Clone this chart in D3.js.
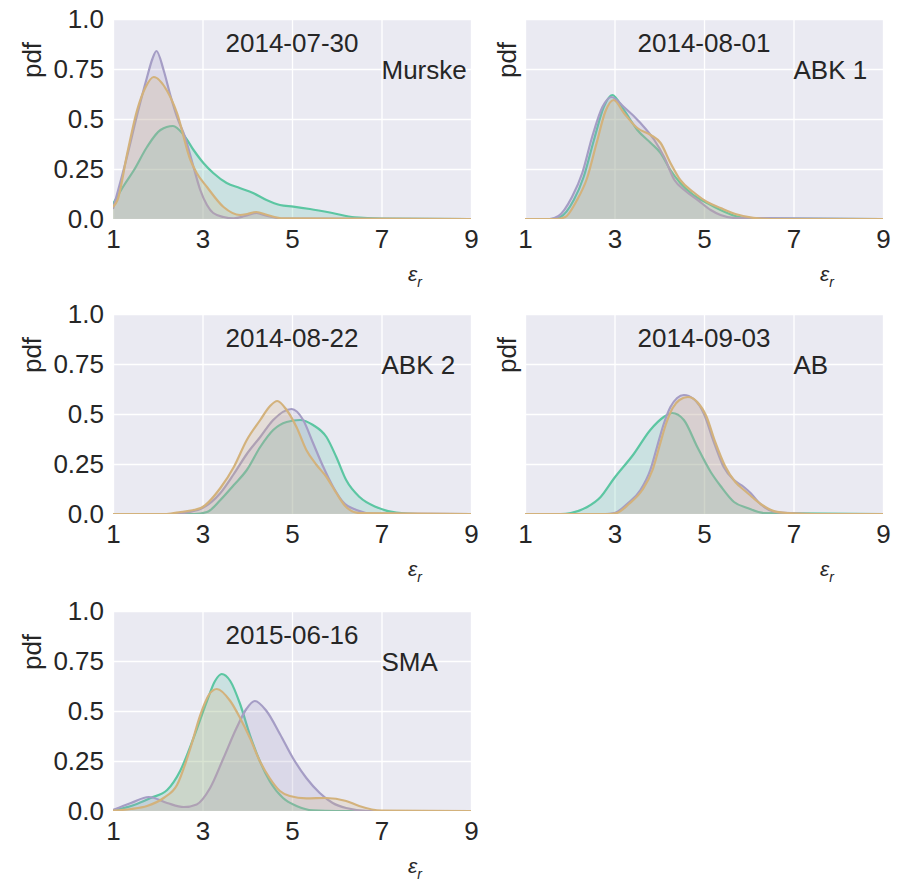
<!DOCTYPE html>
<meta charset="utf-8">
<style>
body { margin: 0; background: #fff; }
text { font-family: "Liberation Sans", Arial, sans-serif; fill: #262626; }
.grid line { stroke: #fff; stroke-width: 1.3; }
.grid .domain { display: none; }
.ticks .domain, .ticks line { display: none; }
.ticks text { font-size: 26px; fill: #262626; }
</style>
<body>
<svg width="901" height="881"></svg>
<script src="https://d3js.org/d3.v7.min.js"></script>
<script>

// panel labels
var dates = ["2014-07-30", "2014-08-01", "2014-08-22", "2014-09-03", "2015-06-16"];
var sites = ["Murske", "ABK 1", "ABK 2", "AB", "SMA"];
var xTicks = [1, 3, 5, 7, 9];
var yTicks = [0, 0.25, 0.5, 0.75, 1.0];
var yTickLabels = ["0.0", "0.25", "0.5", "0.75", "1.0"];

// series colours: green, purple, tan
var colors = ["#5cc6a2", "#a59dc5", "#d3b27c"];

// pdf curves, [eps_r, pdf]
var murskeGreen = [[1,0.075],[1.25,0.17],[1.47,0.245],[1.76,0.36],[2.06,0.445],[2.34,0.465],[2.58,0.42],[2.8,0.345],[3.02,0.28],[3.24,0.23],[3.54,0.18],[3.83,0.155],[4.13,0.13],[4.43,0.095],[4.73,0.07],[5.03,0.062],[5.4,0.05],[5.9,0.03],[6.4,0.008],[7,0.002],[9,0]];
var murskePurple = [[1,0.05],[1.3,0.3],[1.55,0.53],[1.75,0.7],[1.88,0.8],[1.97,0.84],[2.13,0.745],[2.28,0.62],[2.43,0.51],[2.61,0.41],[2.8,0.26],[2.95,0.145],[3.1,0.07],[3.24,0.03],[3.47,0.01],[3.7,0.003],[3.95,0.015],[4.2,0.03],[4.45,0.015],[4.8,0.002],[9,0]];
var murskeTan = [[1,0.06],[1.1,0.095],[1.32,0.33],[1.54,0.545],[1.73,0.66],[1.91,0.71],[2.21,0.64],[2.43,0.53],[2.73,0.295],[2.87,0.23],[3.1,0.16],[3.47,0.06],[3.84,0.02],[4.0,0.025],[4.2,0.035],[4.45,0.02],[4.8,0.003],[9,0]];

var abk1Green = [[1,0],[1.6,0],[1.79,0.01],[2.09,0.095],[2.31,0.21],[2.54,0.395],[2.76,0.56],[2.95,0.62],[3.21,0.545],[3.51,0.445],[3.81,0.38],[4.03,0.33],[4.25,0.245],[4.47,0.18],[4.76,0.12],[5.07,0.08],[5.37,0.045],[5.7,0.015],[6.1,0.002],[9,0]];
var abk1Purple = [[1,0],[1.55,0],[1.75,0.015],[2.05,0.11],[2.28,0.23],[2.5,0.41],[2.73,0.56],[2.93,0.61],[3.21,0.56],[3.58,0.48],[3.89,0.395],[4.11,0.31],[4.34,0.195],[4.56,0.145],[4.86,0.095],[5.15,0.045],[5.37,0.02],[5.7,0.005],[9,0]];
var abk1Tan = [[1,0],[1.7,0],[1.9,0.01],[2.15,0.09],[2.38,0.2],[2.6,0.38],[2.8,0.54],[2.98,0.595],[3.21,0.53],[3.51,0.455],[3.81,0.42],[4.03,0.38],[4.25,0.28],[4.47,0.195],[4.76,0.135],[5.07,0.085],[5.37,0.055],[5.7,0.025],[6.1,0.006],[6.5,0],[9,0]];

var abk2Green = [[1,0],[2.8,0],[3.1,0.01],[3.4,0.07],[3.7,0.145],[3.99,0.22],[4.29,0.335],[4.58,0.42],[4.88,0.46],[5.18,0.47],[5.47,0.445],[5.77,0.385],[5.99,0.285],[6.21,0.17],[6.51,0.085],[6.88,0.035],[7.33,0.007],[7.8,0],[9,0]];
var abk2Purple = [[1,0],[2.3,0],[2.7,0.01],[3.0,0.03],[3.4,0.105],[3.7,0.2],[3.99,0.3],[4.29,0.385],[4.58,0.47],[4.99,0.525],[5.25,0.47],[5.47,0.355],[5.69,0.24],[5.92,0.135],[6.14,0.06],[6.44,0.02],[6.8,0.002],[9,0]];
var abk2Tan = [[1,0],[2.2,0],[2.51,0.01],[2.96,0.03],[3.4,0.13],[3.7,0.235],[3.99,0.37],[4.29,0.47],[4.51,0.54],[4.67,0.565],[4.88,0.52],[5.1,0.435],[5.32,0.32],[5.55,0.245],[5.77,0.185],[5.99,0.105],[6.21,0.035],[6.5,0.005],[9,0]];

var abGreen = [[1,0],[1.8,0],[2.02,0.005],[2.39,0.035],[2.69,0.085],[2.98,0.175],[3.43,0.3],[3.8,0.42],[4.1,0.485],[4.29,0.505],[4.55,0.47],[4.85,0.335],[5.15,0.21],[5.37,0.14],[5.67,0.06],[5.97,0.03],[6.34,0.005],[9,0]];
var abPurple = [[1,0],[2.8,0],[3.0,0.005],[3.28,0.05],[3.58,0.12],[3.8,0.22],[3.95,0.335],[4.1,0.45],[4.25,0.535],[4.4,0.58],[4.55,0.595],[4.77,0.575],[5.0,0.5],[5.22,0.36],[5.44,0.235],[5.67,0.17],[5.89,0.135],[6.04,0.105],[6.26,0.05],[6.56,0.012],[7.0,0.003],[7.4,0],[9,0]];
var abTan = [[1,0],[2.85,0],[3.05,0.005],[3.32,0.05],[3.62,0.12],[3.85,0.22],[4.0,0.335],[4.15,0.45],[4.3,0.53],[4.45,0.57],[4.64,0.585],[4.85,0.56],[5.05,0.49],[5.25,0.36],[5.47,0.24],[5.7,0.16],[5.92,0.115],[6.1,0.08],[6.3,0.045],[6.6,0.012],[7.0,0.003],[7.5,0],[9,0]];

var smaGreen = [[1,0.003],[1.47,0.03],[1.84,0.065],[2.21,0.105],[2.5,0.2],[2.8,0.365],[3.1,0.55],[3.28,0.65],[3.43,0.685],[3.62,0.65],[3.84,0.535],[4.06,0.38],[4.28,0.25],[4.5,0.15],[4.8,0.065],[5.1,0.025],[5.47,0.003],[6,0],[9,0]];
var smaPurple = [[1,0.005],[1.4,0.04],[1.8,0.07],[2.21,0.04],[2.58,0.02],[2.87,0.033],[3.17,0.115],[3.47,0.265],[3.76,0.415],[3.98,0.51],[4.17,0.55],[4.43,0.5],[4.73,0.385],[5.02,0.265],[5.32,0.165],[5.62,0.09],[5.91,0.04],[6.21,0.015],[6.73,0],[9,0]];
var smaTan = [[1,0.002],[1.4,0.01],[1.76,0.025],[2.13,0.065],[2.43,0.13],[2.73,0.315],[2.95,0.48],[3.14,0.58],[3.32,0.61],[3.62,0.55],[3.84,0.465],[4.06,0.365],[4.28,0.25],[4.5,0.165],[4.73,0.1],[4.95,0.075],[5.32,0.063],[5.76,0.065],[6.21,0.05],[6.5,0.025],[7.0,0.002],[9,0]];

var curves = [
  [murskeGreen, murskePurple, murskeTan],
  [abk1Green, abk1Purple, abk1Tan],
  [abk2Green, abk2Purple, abk2Tan],
  [abGreen, abPurple, abTan],
  [smaGreen, smaPurple, smaTan]
];

var svg = d3.select("svg");

// grid of panels
var colLeft = [113, 525],
    rowTop = [19, 314, 611],
    plotW = 358,
    plotH = 200;

var x = d3.scaleLinear().domain([1, 9]).range([0, plotW]);
var y = d3.scaleLinear().domain([0, 1]).range([plotH, 0]);

var area = d3.area()
    .x(function(d) { return x(d[0]); })
    .y0(plotH)
    .y1(function(d) { return y(d[1]); })
    .curve(d3.curveMonotoneX);

var line = d3.line()
    .x(function(d) { return x(d[0]); })
    .y(function(d) { return y(d[1]); })
    .curve(d3.curveMonotoneX);

svg.append("defs").append("clipPath")
    .attr("id", "clip")
  .append("rect")
    .attr("width", plotW)
    .attr("height", plotH);

dates.forEach(function(date, i) {
  var col = i % 2,
      row = Math.floor(i / 2);

  var g = svg.append("g")
      .attr("transform", "translate(" + colLeft[col] + "," + rowTop[row] + ")");

  g.append("rect")
      .attr("width", plotW)
      .attr("height", plotH)
      .attr("fill", "#eaeaf2");

  // white grid
  g.append("g")
      .attr("class", "grid")
      .attr("transform", "translate(0," + plotH + ")")
      .call(d3.axisBottom(x).tickValues(xTicks).tickSize(-plotH).tickFormat(""));
  g.append("g")
      .attr("class", "grid")
      .call(d3.axisLeft(y).tickValues(yTicks).tickSize(-plotW).tickFormat(""));

  var plot = g.append("g").attr("clip-path", "url(#clip)");

  curves[i].forEach(function(c, k) {
    plot.append("path")
        .datum(c)
        .attr("d", area)
        .attr("fill", colors[k])
        .attr("fill-opacity", 0.22);
    plot.append("path")
        .datum(c)
        .attr("d", line)
        .attr("fill", "none")
        .attr("stroke", colors[k])
        .attr("stroke-width", 2.2)
        .attr("stroke-linejoin", "round");
  });

  // tick labels
  g.append("g")
      .attr("class", "ticks")
      .attr("transform", "translate(0," + plotH + ")")
      .call(d3.axisBottom(x).tickValues(xTicks).tickSize(0).tickPadding(11).tickFormat(d3.format("d")));

  if (col == 0) {
    g.append("g")
        .attr("class", "ticks")
        .call(d3.axisLeft(y).tickValues(yTicks).tickSize(0).tickPadding(9)
          .tickFormat(function(d, j) { return yTickLabels[j]; }));
  }

  g.append("text")
      .attr("x", x(5))
      .attr("y", y(0.835))
      .attr("text-anchor", "middle")
      .attr("font-size", 26)
      .text(date);

  g.append("text")
      .attr("x", x(7))
      .attr("y", y(0.70))
      .attr("font-size", 26)
      .text(sites[i]);

  g.append("text")
      .attr("transform", "translate(" + (col == 0 ? -72 : -9) + ",41) rotate(-90)")
      .attr("text-anchor", "middle")
      .attr("font-size", 26)
      .text("pdf");

  var xl = g.append("text")
      .attr("x", 295)
      .attr("y", plotH + 62)
      .attr("font-family", "'DejaVu Serif', serif")
      .attr("font-style", "italic")
      .attr("font-size", 21)
      .attr("fill", "#555");
  xl.append("tspan").text("ε");
  xl.append("tspan")
      .attr("font-size", 14)
      .attr("dy", 6)
      .text("r");
});

</script>
</body>
